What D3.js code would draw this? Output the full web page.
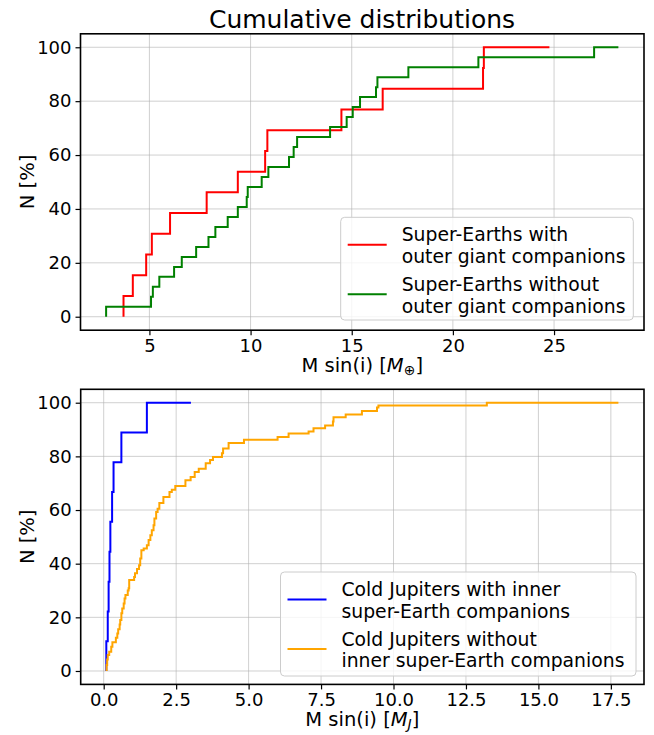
<!DOCTYPE html>
<html>
<head>
<meta charset="utf-8">
<script src="https://cdn.jsdelivr.net/npm/d3@7"></script>
<style>
  body { margin: 0; background: #fff; }
  text { font-family: "DejaVu Sans", sans-serif; fill: #000; }
</style>
</head>
<body>
<script>
// super-Earths, M sin(i) in Earth masses, cumulative %
var redX = [3.72, 4.18, 4.84, 5.12, 6.02, 7.83, 9.37, 10.72, 10.83, 14.49, 16.53, 21.49, 21.53, 24.77];
var redY = [0, 7.7, 15.4, 23.1, 30.8, 38.5, 46.2, 53.8, 61.5, 69.2, 76.9, 84.6, 92.3, 100];
var greenX = [2.86, 5.08, 5.17, 5.49, 6.22, 6.60, 7.31, 7.92, 8.26, 8.87, 9.37, 9.81, 9.86, 10.55, 10.88,
              11.90, 12.13, 12.30, 13.93, 14.75, 15.05, 15.41, 16.20, 16.27, 17.80, 21.26, 26.98, 28.18];
var greenY = [0, 3.7, 7.4, 11.1, 14.8, 18.5, 22.2, 25.9, 29.6, 33.3, 37.0, 40.7, 44.4, 48.1, 51.9,
              55.6, 59.3, 63.0, 66.7, 70.4, 74.1, 77.8, 81.5, 85.2, 88.9, 92.6, 96.3, 100];

// cold Jupiters, M sin(i) in Jupiter masses, cumulative %
var blueX = [0.09, 0.14, 0.17, 0.20, 0.23, 0.29, 0.34, 0.61, 1.49, 3.01];
var blueY = [0, 11.1, 22.2, 33.3, 44.4, 55.6, 66.7, 77.8, 88.9, 100];
var orangeX = [0.10, 0.12, 0.14, 0.19, 0.26, 0.30, 0.42, 0.47, 0.50, 0.55, 0.57, 0.61, 0.64, 0.69, 0.72,
               0.75, 0.83, 0.86, 0.88, 1.05, 1.08, 1.15, 1.22, 1.26, 1.30, 1.38, 1.49, 1.55, 1.61, 1.66,
               1.72, 1.75, 1.81, 1.86, 1.92, 2.06, 2.27, 2.35, 2.47, 2.82, 3.00, 3.14, 3.28, 3.52, 3.67,
               3.77, 4.08, 4.12, 4.31, 4.84, 6.00, 6.38, 7.07, 7.24, 7.64, 7.91, 7.93, 8.35, 8.91, 9.43,
               9.48, 13.22, 17.76];
var orangeY = [0, 2.2, 4.3, 6.0, 7.2, 9.0, 10.7, 12.4, 14.0, 15.6, 17.3, 19.0, 21.5, 23.3, 25.2,
               27.0, 28.3, 30.0, 30.8, 33.9, 35.0, 36.4, 38.0, 39.4, 41.9, 45.0, 45.7, 46.9, 48.8, 50.6,
               52.5, 54.3, 56.8, 59.3, 60.5, 62.6, 64.9, 66.7, 67.6, 69.0, 71.1, 72.3, 74.2, 75.4, 77.4,
               78.6, 79.8, 81.2, 82.9, 85.0, 86.2, 87.2, 88.5, 89.3, 90.5, 91.5, 93.0, 94.6, 95.6, 96.9,
               98.2, 99.0, 100];

var topXTicks = [5, 10, 15, 20, 25];
var botXTicks = [0, 2.5, 5, 7.5, 10, 12.5, 15, 17.5];
var yTicks = [0, 20, 40, 60, 80, 100];

var w = 654, h = 735;
var svg = d3.select("body").append("svg").attr("width", w).attr("height", h);

// one panel of step curves
function panel(box, series, xTicks, xFmt, labelUnit, legendBox) {
    var allX = [].concat.apply([], series.map(s => s.x));
    var lo = d3.min(allX), hi = d3.max(allX), pad = (hi - lo) * 0.05;
    var x = d3.scaleLinear().domain([lo - pad, hi + pad]).range([box.l, box.r]);
    var y = d3.scaleLinear().domain([-5, 105]).range([box.b, box.t]);

    var g = svg.append("g");
    // grid
    g.selectAll(".gx").data(xTicks).enter().append("line")
        .attr("x1", d => x(d)).attr("x2", d => x(d)).attr("y1", box.t).attr("y2", box.b)
        .attr("stroke", "#b0b0b0").attr("stroke-opacity", 0.6).attr("stroke-width", 1);
    g.selectAll(".gy").data(yTicks).enter().append("line")
        .attr("x1", box.l).attr("x2", box.r).attr("y1", d => y(d)).attr("y2", d => y(d))
        .attr("stroke", "#b0b0b0").attr("stroke-opacity", 0.6).attr("stroke-width", 1);

    var line = d3.line().x(d => x(d[0])).y(d => y(d[1])).curve(d3.curveStepBefore);
    series.forEach(function(s) {
        g.append("path").datum(d3.zip(s.x, s.y)).attr("d", line)
            .attr("fill", "none").attr("stroke", s.color).attr("stroke-width", 2);
    });

    var xAxis = d3.axisBottom(x).tickValues(xTicks).tickFormat(xFmt).tickSize(5).tickPadding(4);
    var yAxis = d3.axisLeft(y).tickValues(yTicks).tickSize(5).tickPadding(4);
    var ax = g.append("g").attr("transform", "translate(0," + box.b + ")").call(xAxis);
    var ay = g.append("g").attr("transform", "translate(" + box.l + ",0)").call(yAxis);
    [ax, ay].forEach(function(a) {
        a.select(".domain").remove();
        a.selectAll("line").attr("stroke", "#000").attr("stroke-width", 1.2);
        a.selectAll("text").style("font-family", "DejaVu Sans").style("font-size", "18px").attr("fill", "#000");
    });

    g.append("rect").attr("x", box.l).attr("y", box.t)
        .attr("width", box.r - box.l).attr("height", box.b - box.t)
        .attr("fill", "none").attr("stroke", "#000").attr("stroke-width", 1.6);

    // axis labels
    var xl = g.append("text").attr("x", (box.l + box.r) / 2).attr("y", box.b + 42)
        .attr("text-anchor", "middle").style("font-size", "19.5px");
    xl.append("tspan").text("M sin(i) [");
    xl.append("tspan").style("font-style", "italic").text("M");
    xl.append("tspan").attr("dy", 3).style("font-size", "14px").style("font-style", "italic").text(labelUnit);
    xl.append("tspan").attr("dy", -3).text("]");

    g.append("text").attr("transform", "translate(" + (box.l - 47) + "," + ((box.t + box.b) / 2) + ") rotate(-90)")
        .attr("text-anchor", "middle").style("font-size", "19.5px").text("N [%]");

    // legend
    var lg = g.append("g");
    lg.append("rect").attr("x", legendBox.x).attr("y", legendBox.y)
        .attr("width", legendBox.w).attr("height", legendBox.h).attr("rx", 4)
        .attr("fill", "#fff").attr("fill-opacity", 0.8)
        .attr("stroke", "#cccccc").attr("stroke-width", 1);
    series.forEach(function(s, i) {
        var cy = legendBox.y + 28 + i * 49.5;
        lg.append("line").attr("x1", legendBox.x + 7).attr("x2", legendBox.x + 46)
            .attr("y1", cy - 0.5).attr("y2", cy - 0.5).attr("stroke", s.color).attr("stroke-width", 2);
        s.label.forEach(function(t, j) {
            lg.append("text").attr("x", legendBox.x + 61).attr("y", cy - 4 + j * 21.7)
                .style("font-size", "18.8px").text(t);
        });
    });
}

svg.append("text").attr("x", 362).attr("y", 28).attr("text-anchor", "middle")
    .style("font-size", "25px").text("Cumulative distributions");

panel({l: 80.5, r: 644, t: 33.8, b: 330.2},
      [{x: redX, y: redY, color: "red", label: ["Super-Earths with", "outer giant companions"]},
       {x: greenX, y: greenY, color: "green", label: ["Super-Earths without", "outer giant companions"]}],
      topXTicks, d3.format("d"), "⊕",
      {x: 340.7, y: 217.3, w: 292.6, h: 102.7});

panel({l: 80.7, r: 644, t: 389.3, b: 684.4},
      [{x: blueX, y: blueY, color: "blue", label: ["Cold Jupiters with inner", "super-Earth companions"]},
       {x: orangeX, y: orangeY, color: "orange", label: ["Cold Jupiters without", "inner super-Earth companions"]}],
      botXTicks, d3.format(".1f"), "J",
      {x: 280.5, y: 572, w: 355.5, h: 104});
</script>
</body>
</html>
